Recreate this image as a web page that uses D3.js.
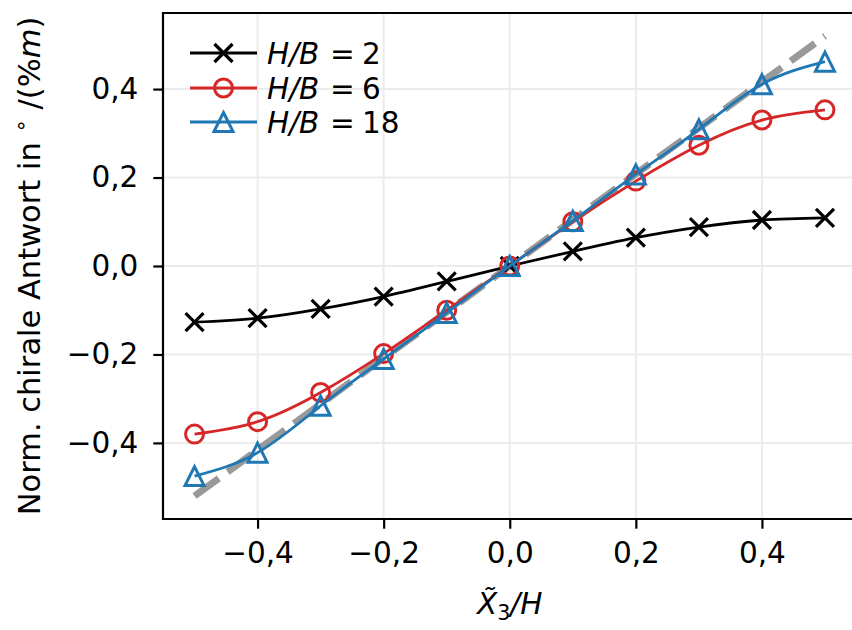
<!DOCTYPE html>
<html><head><meta charset="utf-8">
<script src="https://cdn.jsdelivr.net/npm/d3@7"></script>
<style>body{margin:0;background:#fff}svg{display:block;font-family:"DejaVu Sans",sans-serif}</style>
</head><body><svg id="c" width="852" height="630"></svg>
<script>
const xs = [-0.5,-0.4,-0.3,-0.2,-0.1,0.0,0.1,0.2,0.3,0.4,0.5];
const hb2  = [-0.127,-0.118,-0.097,-0.069,-0.035,0.0,0.033,0.064,0.088,0.104,0.109];
const hb6  = [-0.380,-0.352,-0.286,-0.198,-0.100,0.0,0.100,0.192,0.273,0.330,0.353];
const hb18 = [-0.475,-0.422,-0.316,-0.210,-0.106,0.0,0.102,0.207,0.309,0.411,0.462];
const refX = [-0.5, 0.5];
const refY = [-0.52, 0.52];
const xTicks = [-0.4,-0.2,0.0,0.2,0.4];
const yTicks = [-0.4,-0.2,0.0,0.2,0.4];
const seriesNames = ["H/B = 2","H/B = 6","H/B = 18"];

const svg = d3.select("#c");
const L=163, R=856.5, T=13, B=519;
const x = d3.scaleLinear().domain([-0.55,0.55]).range([L,R]);
const y = d3.scaleLinear().domain([-0.572,0.572]).range([B,T]);
const fs = 29.5;
const fmt = v => (v<0?"\u2212":"") + Math.abs(v).toFixed(1).replace(".",",");

// grid
const g = svg.append("g");
g.selectAll(".gx").data(xTicks).enter().append("line")
 .attr("x1",d=>x(d)).attr("x2",d=>x(d)).attr("y1",T).attr("y2",B)
 .attr("stroke","#ebebeb").attr("stroke-width",2);
g.selectAll(".gy").data(yTicks).enter().append("line")
 .attr("y1",d=>y(d)).attr("y2",d=>y(d)).attr("x1",L).attr("x2",R)
 .attr("stroke","#ebebeb").attr("stroke-width",2);

const plot = svg.append("g");

// reference dashed line
plot.append("line").attr("x1",x(refX[0])).attr("y1",y(refY[0])).attr("x2",x(refX[1])).attr("y2",y(refY[1]))
 .attr("stroke","#999999").attr("stroke-width",7).attr("stroke-dasharray","30,11");

const line = d3.line().x(d=>x(d[0])).y(d=>y(d[1])).curve(d3.curveNatural);
const ms = 18;
function marker(sel, type, color){
  if(type==="x"){
    const h=ms/2;
    sel.append("path").attr("d",`M${-h},${-h}L${h},${h}M${-h},${h}L${h},${-h}`)
      .attr("stroke",color).attr("stroke-width",3.2).attr("fill","none");
  } else if(type==="o"){
    sel.append("circle").attr("r",ms/2).attr("stroke",color).attr("stroke-width",3).attr("fill","none");
  } else {
    const h=ms/2+0.5;
    sel.append("path").attr("d",`M0,${-h}L${h},${h}L${-h},${h}Z`)
      .attr("stroke",color).attr("stroke-width",3).attr("fill","none").attr("stroke-linejoin","miter");
  }
}
const series = [
 {vals:hb2,color:"#000000",m:"x"},
 {vals:hb6,color:"#d62728",m:"o"},
 {vals:hb18,color:"#1f77b4",m:"^"}
];
series.forEach(s=>{
  const pts = xs.map((v,i)=>[v,s.vals[i]]);
  plot.append("path").attr("d",line(pts)).attr("fill","none").attr("stroke",s.color).attr("stroke-width",2.8);
  pts.forEach(p=>{
    const gm = plot.append("g").attr("transform",`translate(${x(p[0])},${y(p[1])})`);
    marker(gm,s.m,s.color);
  });
});

// axes
const xa = svg.append("g").attr("transform",`translate(0,${B})`)
 .call(d3.axisBottom(x).tickValues(xTicks).tickFormat(fmt).tickSize(9.7).tickPadding(13));
const ya = svg.append("g").attr("transform",`translate(${L},0)`)
 .call(d3.axisLeft(y).tickValues(yTicks).tickFormat(fmt).tickSize(9.7).tickPadding(15));
[xa,ya].forEach(a=>{
  a.select(".domain").remove();
  a.selectAll(".tick line").attr("stroke","#000").attr("stroke-width",2.2);
  a.selectAll(".tick text").attr("font-size",fs).attr("font-family","DejaVu Sans").attr("fill","#000");
});
// spines
svg.append("line").attr("x1",L).attr("x2",L).attr("y1",T).attr("y2",B).attr("stroke","#000").attr("stroke-width",2.2);
svg.append("line").attr("x1",L-1.1).attr("x2",R).attr("y1",B).attr("y2",B).attr("stroke","#000").attr("stroke-width",2.2);
svg.append("line").attr("x1",L-1.1).attr("x2",R).attr("y1",T).attr("y2",T).attr("stroke","#000").attr("stroke-width",2.2);
svg.append("line").attr("x1",R).attr("x2",R).attr("y1",T).attr("y2",B).attr("stroke","#000").attr("stroke-width",2.2);

// axis labels
const xl = svg.append("text").attr("x",x(0)).attr("y",614).attr("text-anchor","middle").attr("font-size",fs);
xl.append("tspan").attr("font-style","italic").text("X\u0303");
xl.append("tspan").attr("font-size",fs*0.7).attr("dy",6).text("3");
xl.append("tspan").attr("font-style","italic").attr("dy",-6).text("/H");

const yfs = 30.5;
const yl = svg.append("text").attr("transform",`translate(40,${(T+B)/2}) rotate(-90)`).attr("text-anchor","middle").attr("font-size",yfs);
yl.append("tspan").text("Norm. chirale Antwort in ");
yl.append("tspan").attr("font-size",yfs*0.7).attr("dy",-12).text("\u2218");
yl.append("tspan").attr("dy",12).text(" /(%");
yl.append("tspan").attr("font-style","italic").text("m");
yl.append("tspan").text(")");

// legend
const lg = svg.append("g");
const ly = [53,88,122];
series.forEach((s,i)=>{
  lg.append("line").attr("x1",190).attr("x2",257).attr("y1",ly[i]).attr("y2",ly[i]).attr("stroke",s.color).attr("stroke-width",2.8);
  marker(lg.append("g").attr("transform",`translate(223.5,${ly[i]})`),s.m,s.color);
  const parts = seriesNames[i].split(" = ");
  const t = lg.append("text").attr("y",ly[i]+11).attr("font-size",fs);
  t.append("tspan").attr("x",267).attr("font-style","italic").text(parts[0]);
  t.append("tspan").attr("x",330).text("=");
  t.append("tspan").attr("x",362).text(parts[1]);
});
</script></body></html>
